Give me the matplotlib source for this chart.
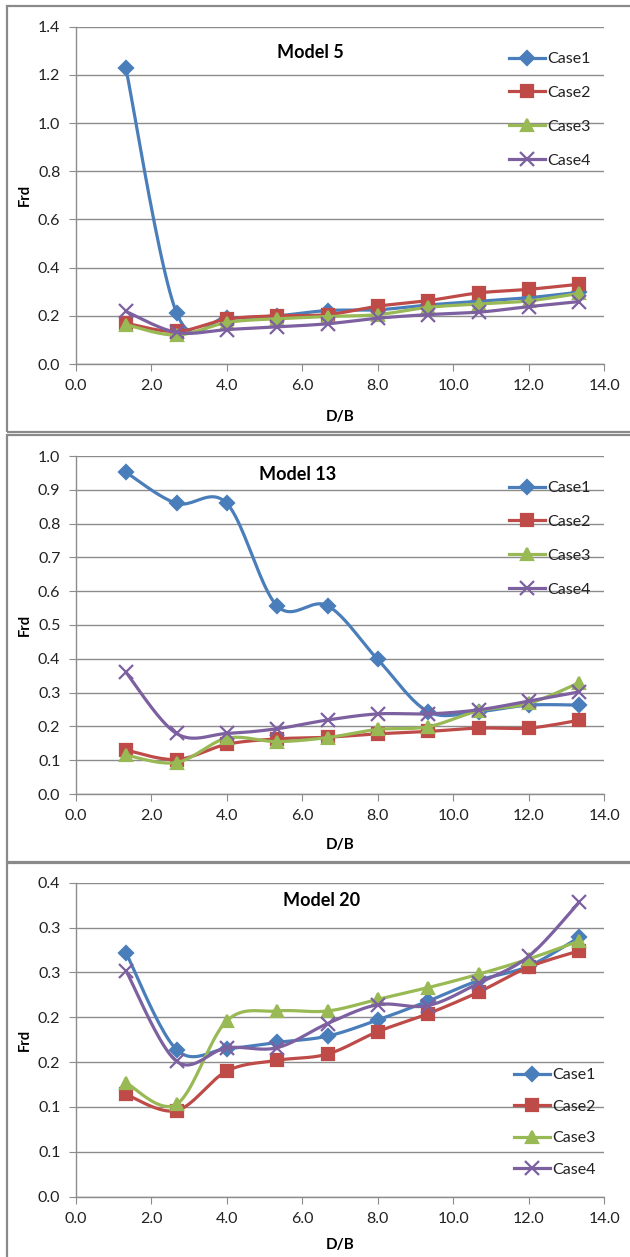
import matplotlib
matplotlib.use('Agg')
import matplotlib.pyplot as plt
from matplotlib.patches import Rectangle
from matplotlib.lines import Line2D
import numpy as np

# D/B positions shared by every series
db = [1.33, 2.67, 4.0, 5.33, 6.67, 8.0, 9.33, 10.67, 12.0, 13.33]
case_names = ['Case1', 'Case2', 'Case3', 'Case4']

# Model 5
m5_case1 = [1.227, 0.213, 0.192, 0.200, 0.222, 0.225, 0.245, 0.260, 0.275, 0.298]
m5_case2 = [0.169, 0.135, 0.186, 0.200, 0.205, 0.240, 0.263, 0.295, 0.310, 0.331]
m5_case3 = [0.163, 0.120, 0.172, 0.188, 0.197, 0.205, 0.235, 0.249, 0.262, 0.293]
m5_case4 = [0.218, 0.131, 0.143, 0.154, 0.167, 0.190, 0.205, 0.215, 0.238, 0.259]

# Model 13
m13_case1 = [0.952, 0.860, 0.860, 0.557, 0.557, 0.398, 0.244, 0.244, 0.263, 0.263]
m13_case2 = [0.130, 0.102, 0.147, 0.163, 0.168, 0.178, 0.185, 0.195, 0.195, 0.218]
m13_case3 = [0.115, 0.093, 0.165, 0.155, 0.167, 0.191, 0.199, 0.246, 0.268, 0.329]
m13_case4 = [0.360, 0.179, 0.179, 0.193, 0.219, 0.237, 0.237, 0.249, 0.275, 0.302]

# Model 20
m20_case1 = [0.272, 0.164, 0.165, 0.172, 0.179, 0.197, 0.218, 0.241, 0.257, 0.289]
m20_case2 = [0.114, 0.096, 0.140, 0.152, 0.159, 0.184, 0.204, 0.228, 0.256, 0.274]
m20_case3 = [0.127, 0.103, 0.196, 0.207, 0.207, 0.220, 0.233, 0.248, 0.265, 0.285]
m20_case4 = [0.252, 0.151, 0.166, 0.166, 0.193, 0.214, 0.213, 0.238, 0.268, 0.328]

# axis ticks / labels
x_ticks = [0, 2, 4, 6, 8, 10, 12, 14]
x_tick_labels = ['0.0', '2.0', '4.0', '6.0', '8.0', '10.0', '12.0', '14.0']
m5_y_ticks = [0, 0.2, 0.4, 0.6, 0.8, 1.0, 1.2, 1.4]
m5_y_labels = ['0.0', '0.2', '0.4', '0.6', '0.8', '1.0', '1.2', '1.4']
m13_y_ticks = [0, 0.1, 0.2, 0.3, 0.4, 0.5, 0.6, 0.7, 0.8, 0.9, 1.0]
m13_y_labels = ['0.0', '0.1', '0.2', '0.3', '0.4', '0.5', '0.6', '0.7', '0.8', '0.9', '1.0']
m20_y_ticks = [0, 0.05, 0.1, 0.15, 0.2, 0.25, 0.3, 0.35]
m20_y_labels = ['0.0', '0.1', '0.1', '0.2', '0.2', '0.3', '0.3', '0.4']

colors = ['#4A7EBB', '#BE4B48', '#98B954', '#7D60A0']
markers = ['D', 's', '^', 'x']
msizes = [7.5, 9, 9, 9.5]

plt.rcParams['font.family'] = ['Lato', 'DejaVu Sans']

W, H = 630, 1257
fig = plt.figure(figsize=(W / 100, H / 100), dpi=100)


def px_rect(x0, y0, x1, y1):
    return [x0 / W, 1 - y1 / H, (x1 - x0) / W, (y1 - y0) / H]


def smooth_xy(ax, x, y, n=24):
    # excel-style smoothed line (bezier through the points, in screen space)
    pts = ax.transData.transform(np.column_stack([x, y]))
    p = np.vstack([pts[0], pts, pts[-1]])
    out = [p[1]]
    t = np.linspace(0, 1, n)[1:, None]
    for i in range(1, len(p) - 2):
        p0, p1, p2, p3 = p[i - 1], p[i], p[i + 1], p[i + 2]
        c1 = p1 + (p2 - p0) / 6
        c2 = p2 - (p3 - p1) / 6
        seg = (1 - t) ** 3 * p1 + 3 * (1 - t) ** 2 * t * c1 + 3 * (1 - t) * t ** 2 * c2 + t ** 3 * p2
        out.extend(seg)
    out = ax.transData.inverted().transform(np.array(out))
    return out[:, 0], out[:, 1]


# panel frames
for (y0, y1) in [(6, 432), (435, 862), (862.5, 1275)]:
    fig.patches.append(Rectangle((6.5 / W, 1 - y1 / H), 700 / W, (y1 - y0) / H,
                                 transform=fig.transFigure, fill=False,
                                 edgecolor='#8a8a8a', lw=1.6))

panels = [
    dict(title='Model 5', series=[m5_case1, m5_case2, m5_case3, m5_case4],
         yt=m5_y_ticks, yl=m5_y_labels, ylim=1.4,
         rect=(75.7, 26.7, 604.3, 364), title_xy=(310, 52), xlab_y=417,
         leg_x=509, leg_y=52, leg_sp=1.23),
    dict(title='Model 13', series=[m13_case1, m13_case2, m13_case3, m13_case4],
         yt=m13_y_ticks, yl=m13_y_labels, ylim=1.0,
         rect=(75.7, 456, 604.3, 794), title_xy=(298, 475), xlab_y=845,
         leg_x=509, leg_y=481, leg_sp=1.23),
    dict(title='Model 20', series=[m20_case1, m20_case2, m20_case3, m20_case4],
         yt=m20_y_ticks, yl=m20_y_labels, ylim=0.35,
         rect=(75.7, 882.7, 604.3, 1196.7), title_xy=(322, 900), xlab_y=1245,
         leg_x=514, leg_y=1068, leg_sp=1.09),
]

grid_c = '#8c8c8c'
for pn in panels:
    x0, y0, x1, y1 = pn['rect']
    ax = fig.add_axes(px_rect(x0, y0, x1, y1))
    ax.set_xlim(0, 14)
    ax.set_ylim(0, pn['ylim'])
    ax.set_xticks(x_ticks)
    ax.set_xticklabels(x_tick_labels)
    ax.set_yticks(pn['yt'])
    ax.set_yticklabels(pn['yl'])
    for s in ['top', 'right']:
        ax.spines[s].set_visible(False)
    for s in ['left', 'bottom']:
        ax.spines[s].set_color(grid_c)
        ax.spines[s].set_linewidth(1)
    ax.grid(axis='y', color=grid_c, lw=1)
    ax.set_axisbelow(True)
    ax.tick_params(axis='both', direction='out', length=5, color=grid_c,
                   labelsize=11.5, labelcolor='#222222')
    ax.tick_params(axis='x', pad=6)
    ax.tick_params(axis='y', pad=6)

    handles = []
    for k, vals in enumerate(pn['series']):
        sx, sy = smooth_xy(ax, db, vals)
        ax.plot(sx, sy, color=colors[k], lw=2.3, zorder=3 + k * 0.1,
                solid_capstyle='round')
        ax.plot(db, vals, ls='none', marker=markers[k], ms=msizes[k],
                color=colors[k], mec=colors[k], mew=1.6, zorder=3.05 + k * 0.1)
        handles.append(Line2D([], [], color=colors[k], lw=2.3, marker=markers[k],
                              ms=msizes[k], mec=colors[k], mew=1.6))

    fig.text(pn['title_xy'][0] / W, 1 - pn['title_xy'][1] / H, pn['title'],
             ha='center', va='center', fontsize=13, fontweight='bold')
    fig.text(340 / W, 1 - pn['xlab_y'] / H, 'D/B', ha='center', va='center',
             fontsize=11, fontweight='bold')
    fig.text(24.5 / W, 1 - ((y0 + y1) / 2) / H, 'Frd', ha='center', va='center',
             rotation=90, fontsize=10.5, fontweight='bold')

    ax.legend(handles, case_names, loc='upper left',
              bbox_to_anchor=(pn['leg_x'] / W, 1 - pn['leg_y'] / H),
              bbox_transform=fig.transFigure, frameon=False, fontsize=11.5,
              handlelength=2.25, handletextpad=0.15, borderpad=0,
              borderaxespad=0, labelspacing=pn['leg_sp'], labelcolor='#222222')

fig.savefig('out.png', dpi=100)
